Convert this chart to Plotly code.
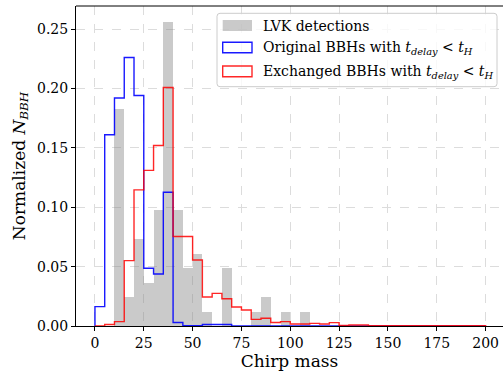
import numpy as np
import plotly.graph_objects as go

bin_width = 5
bin_start = 0
n_bins = 40

lvk = [0, 0, 0.183, 0.0244, 0.0732, 0.0366, 0.0976, 0.256, 0.0976, 0.0488,
       0.061, 0.0122, 0, 0.0488, 0, 0, 0.0122, 0.0244, 0, 0.0122,
       0, 0.0122, 0, 0, 0, 0, 0, 0, 0, 0,
       0, 0, 0, 0, 0, 0, 0, 0, 0, 0]

original = [0.0163, 0.161, 0.192, 0.226, 0.194, 0.0486, 0.0438, 0.1126, 0.003, 0.0003,
            0.0003, 0.0012, 0.0012, 0.0012, 0, 0, 0, 0, 0, 0,
            0, 0, 0, 0, 0, 0, 0, 0, 0, 0,
            0, 0, 0, 0, 0, 0, 0, 0, 0, 0]

exchanged = [0, 0.0012, 0.0037, 0.055, 0.1146, 0.131, 0.152, 0.2008, 0.0753, 0.0753,
             0.0556, 0.0244, 0.0275, 0.023, 0.016, 0.0135, 0.0056, 0.0065, 0.003, 0.0037,
             0.0017, 0.0017, 0.0022, 0.0017, 0.0028, 0.0004, 0.0008, 0.0008, 0.0003, 0.0003,
             0.0003, 0.0003, 0.0003, 0.0003, 0.0003, 0.0003, 0.0003, 0.0003, 0.0003, 0.0003]

legend_labels = [
    "LVK detections",
    "Original BBHs with <i>t</i><sub><i>delay</i></sub> &lt; <i>t</i><sub><i>H</i></sub>",
    "Exchanged BBHs with <i>t</i><sub><i>delay</i></sub> &lt; <i>t</i><sub><i>H</i></sub>",
]

x_ticks = [0, 25, 50, 75, 100, 125, 150, 175, 200]
y_ticks = [0, 0.05, 0.10, 0.15, 0.20, 0.25]

edges = bin_start + bin_width * np.arange(n_bins + 1)
centers = edges[:-1] + bin_width / 2

FONT = "DejaVu Serif"
blue = "rgba(0,0,255,0.9)"
red = "rgba(255,0,0,0.85)"
gray = "rgba(128,128,128,0.42)"

fig = go.Figure()
fig.add_trace(go.Bar(x=centers, y=lvk, width=bin_width, marker=dict(color=gray, line=dict(width=0)),
                     showlegend=False))


def step_trace(vals, color):
    xs = np.concatenate([[edges[0]], edges[:-1], [edges[-1]]])
    ys = np.concatenate([[0], vals, [0]])
    return go.Scatter(x=xs, y=ys, mode="lines", line=dict(color=color, width=1.4, shape="hv"),
                      showlegend=False, hoverinfo="skip")


fig.add_trace(step_trace(original, blue))
fig.add_trace(step_trace(exchanged, red))

W, H = 503, 375
L, R, T, B = 76, 0, 6, 49
pw, ph = W - L - R, H - T - B


def px(x):
    return (x - L) / pw


def py(y):
    return (H - B - y) / ph


shapes = []
x0, x1, y0, y1 = px(217), px(497), py(13.3), py(86.7)
rx, ry = 3 / pw, 3 / ph
path = (f"M{x0+rx},{y0} L{x1-rx},{y0} Q{x1},{y0} {x1},{y0-ry} L{x1},{y1+ry} Q{x1},{y1} {x1-rx},{y1} "
        f"L{x0+rx},{y1} Q{x0},{y1} {x0},{y1+ry} L{x0},{y0-ry} Q{x0},{y0} {x0+rx},{y0} Z")
shapes.append(dict(type="path", xref="paper", yref="paper", path=path,
                   fillcolor="rgba(255,255,255,0.8)", line=dict(color="#cccccc", width=1)))
rows = [(20, 31, gray, None), (42.3, 52.7, "rgba(0,0,0,0)", blue), (66, 76.7, "rgba(0,0,0,0)", red)]
for (a, b, fc, lc) in rows:
    shapes.append(dict(type="rect", xref="paper", yref="paper", x0=px(222.7), x1=px(252),
                       y0=py(b), y1=py(a), fillcolor=fc,
                       line=dict(color=lc if lc else "rgba(0,0,0,0)", width=1.4 if lc else 0)))
shapes.append(dict(type="line", xref="paper", yref="paper", x0=0, x1=1, y0=1, y1=1,
                   line=dict(color="black", width=1)))

annotations = []
for (a, b, _, _), lab in zip(rows, legend_labels):
    annotations.append(dict(xref="paper", yref="paper", x=px(261), y=py((a + b) / 2 + 0.5),
                            text=lab, showarrow=False, xanchor="left", yanchor="middle",
                            font=dict(family=FONT, size=14, color="black")))

fig.update_layout(
    width=W, height=H, margin=dict(l=L, r=R, t=T, b=B),
    plot_bgcolor="white", paper_bgcolor="white",
    bargap=0, shapes=shapes, annotations=annotations,
    font=dict(family=FONT, size=14, color="black"),
    xaxis=dict(range=[-9.7, 208.9], tickvals=x_ticks, ticks="outside", ticklen=4, tickcolor="black",
               showline=True, linecolor="black", linewidth=1, mirror=False,
               showgrid=True, gridcolor="#dcdcdc", griddash="dash", gridwidth=0.8, zeroline=False,
               title=dict(text="Chirp mass", font=dict(family=FONT, size=17), standoff=2),
               tickfont=dict(family=FONT, size=14)),
    yaxis=dict(range=[0, 0.2694], tickvals=y_ticks, tickformat=".2f", ticks="outside", ticklen=4,
               tickcolor="black", showline=True, linecolor="black", linewidth=1,
               showgrid=True, gridcolor="#dcdcdc", griddash="dash", gridwidth=0.8, zeroline=False,
               title=dict(text="Normalized <i>N</i><sub><i>BBH</i></sub>", font=dict(family=FONT, size=17),
                          standoff=7),
               tickfont=dict(family=FONT, size=14)),
)

fig.write_html("out.html")
